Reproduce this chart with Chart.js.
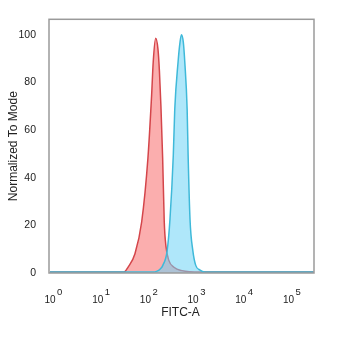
<!DOCTYPE html>
<html>
<head>
<meta charset="utf-8">
<script src="https://cdn.jsdelivr.net/npm/chart.js@4.4.1/dist/chart.umd.min.js"></script>
<style>
  html, body { margin: 0; padding: 0; background: #fff; }
  #wrap { width: 350px; height: 345px; }
</style>
</head>
<body>
<div id="wrap"><canvas id="histo"></canvas></div>
<script>
// FITC-A intensity (x) and normalized-to-mode counts (y) for each histogram
const isotypeX = [0.8, 28.5, 34.6, 48.5, 67, 90.8, 108.6, 117.2, 131.8, 147.2, 158, 170, 184.5, 199.5, 216.3, 250, 318.4, 468, 1122, 270000];
const isotypeY = [0.4, 0.4, 2.4, 8.1, 21.4, 48.4, 75, 88.7, 98.5, 94, 84.7, 69.8, 48.4, 21.4, 11.3, 5.2, 2.4, 1, 0.4, 0.4];

const stainedX = [0.8, 114.8, 141.3, 162.2, 186.2, 229.1, 263, 309, 331, 389, 426.6, 457, 501, 537, 602.6, 631, 691.8, 794, 912, 1122, 1413, 270000];
const stainedY = [0.4, 0.4, 0.8, 1.6, 3.2, 9.3, 22.6, 49.6, 68.5, 88.7, 96.8, 100, 96.8, 88.7, 68.5, 49.6, 22.6, 9.3, 3.2, 1.2, 0.4, 0.4];

const xDecades = [0, 1, 2, 3, 4, 5];
const yTicks = [0, 20, 40, 60, 80, 100];

function toPoints(xs, ys) {
  return xs.map((x, i) => ({ x: x, y: ys[i] }));
}

// frame around the plot plus the 10^n labels under it
const frameAndDecades = {
  id: 'frameAndDecades',
  afterDraw(chart) {
    const ctx = chart.ctx;
    const a = chart.chartArea;
    const xs = chart.scales.x;
    ctx.save();
    ctx.strokeStyle = '#9a9a9a';
    ctx.lineWidth = 1.5;
    ctx.strokeRect(a.left, a.top, a.right - a.left, a.bottom - a.top);

    ctx.fillStyle = '#222';
    ctx.textBaseline = 'middle';
    xDecades.forEach(n => {
      const px = xs.getPixelForValue(Math.pow(10, n));
      ctx.font = '10px "Liberation Sans", Arial, sans-serif';
      ctx.textAlign = 'right';
      ctx.fillText('10', px + 1, 300);
      ctx.font = '9.5px "Liberation Sans", Arial, sans-serif';
      ctx.textAlign = 'left';
      ctx.fillText(String(n), px + 2.5, 292);
    });
    ctx.font = '12px "Liberation Sans", Arial, sans-serif';
    ctx.textAlign = 'center';
    ctx.fillText('FITC-A', (a.left + a.right) / 2 - 1, 313);
    ctx.restore();
  }
};

const ctx = document.getElementById('histo').getContext('2d');
const histoChart = new Chart(ctx, {
  type: 'line',
  data: {
    datasets: [{
      label: 'Stained',
      data: toPoints(stainedX, stainedY),
      borderColor: '#3fb9d9',
      backgroundColor: 'rgba(110, 212, 245, 0.55)',
      borderWidth: 1.5,
      fill: 'origin',
      pointRadius: 0,
      cubicInterpolationMode: 'monotone'
    }, {
      label: 'Isotype',
      data: toPoints(isotypeX, isotypeY),
      borderColor: '#d4454a',
      backgroundColor: 'rgba(248, 125, 125, 0.62)',
      borderWidth: 1.5,
      fill: 'origin',
      pointRadius: 0,
      cubicInterpolationMode: 'monotone'
    }]
  },
  options: {
    responsive: true,
    maintainAspectRatio: false,
    animation: false,
    layout: { padding: { top: 9, right: 36, bottom: 72, left: 0 } },
    plugins: {
      legend: { display: false },
      tooltip: { enabled: false }
    },
    scales: {
      x: {
        type: 'logarithmic',
        display: false,
        min: Math.pow(10, -0.117),
        max: Math.pow(10, 5.44)
      },
      y: {
        min: 0,
        max: 106.5,
        afterBuildTicks: scale => { scale.ticks = yTicks.map(v => ({ value: v })); },
        afterFit: scale => { scale.width = 49; },
        grid: { display: false, drawTicks: false },
        border: { display: false },
        ticks: {
          padding: 13,
          color: '#222',
          font: { family: '"Liberation Sans", Arial, sans-serif', size: 10.5 }
        },
        title: {
          display: true,
          text: 'Normalized To Mode',
          color: '#222',
          padding: { top: 6, bottom: 0 },
          font: { family: '"Liberation Sans", Arial, sans-serif', size: 12 }
        }
      }
    }
  },
  plugins: [frameAndDecades]
});
</script>
</body>
</html>
